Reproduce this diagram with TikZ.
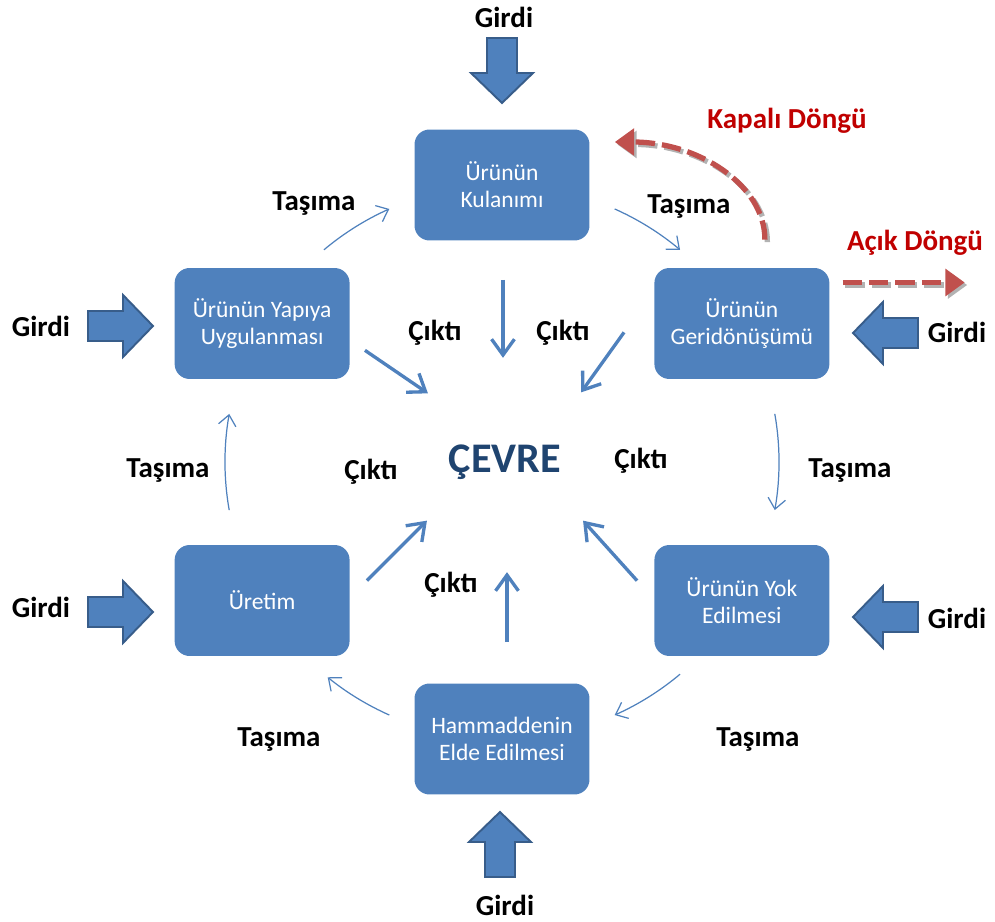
\documentclass[tikz,border=0pt]{standalone}
\usepackage{fontspec}
\setmainfont{Carlito}
\usepackage{tikz}
\usetikzlibrary{arrows.meta, positioning, calc}
\definecolor{boxblue}{HTML}{4F81BD}
\definecolor{edgeblue}{HTML}{385D8A}
\definecolor{cevreblue}{HTML}{1F4470}
\definecolor{loopred}{HTML}{C0504D}
\definecolor{looptext}{HTML}{C00000}

\begin{document}
\begin{tikzpicture}[x=0.02cm, y=0.02cm,
    stage/.style={fill=boxblue, rounded corners=0.3cm, minimum width=3.5cm, minimum height=2.22cm, text=white, align=center, font=\fontsize{13.4}{15.5}\selectfont},
    lbl/.style={font=\bfseries\fontsize{16.5}{18}\selectfont},
    looplbl/.style={lbl, text=looptext},
    tasima/.style={boxblue, line width=0.7pt, -{Straight Barb[length=6pt, width=10pt]}},
    cikti/.style={boxblue, line width=1.9pt, -{Straight Barb[length=9pt, width=13pt]}},
    inflow/.style={fill=boxblue, draw=edgeblue, line width=1.1pt, line join=miter},
    loopline/.style={line width=3pt, dash pattern=on 11pt off 4pt, -{Triangle[length=11pt, width=15pt]}},
    loopshadow/.style={loopline, black!30, transform canvas={shift={(0.05cm,-0.05cm)}}}]
    \useasboundingbox (0,0) rectangle (995,921);
    \coordinate (hub) at (502,459);
    \node[stage] (kul) at ($(hub)+(90:277)$) {Ürünün\\Kulanımı};
    \node[stage] (geri) at ($(hub)+(30:277)$) {Ürünün\\Geridönüşümü};
    \node[stage] (yok) at ($(hub)+(-30:277)$) {Ürünün Yok\\Edilmesi};
    \node[stage] (ham) at ($(hub)+(-90:277)$) {Hammaddenin\\Elde Edilmesi};
    \node[stage] (uretim) at ($(hub)+(210:277)$) {Üretim};
    \node[stage] (yapi) at ($(hub)+(150:277)$) {Ürünün Yapıya\\Uygulanması};
    \node[font=\bfseries\fontsize{24}{28}\selectfont, text=cevreblue] (cevre) at (505,459) {ÇEVRE};

    \foreach \a/\b in {130/114, 66/50, 10/-10, -50/-66, 246/231, 190/170}
        \draw[tasima] ($(hub)+(\a:277)$) arc[start angle=\a, end angle=\b, radius=5.54cm];

    \draw[cikti] ([shift={(1,-39)}]kul.south) -- ++(0,-78);
    \draw[cikti] ([shift={(15,29)}]yapi.south east) -- ++(63,-43);
    \draw[cikti] ([shift={(-30,47)}]geri.south west) -- ++(-43,-60);
    \draw[cikti] ([shift={(17,-36)}]uretim.north east) -- ++(60,60);
    \draw[cikti] ([shift={(-17,-36)}]yok.north west) -- ++(-54,60);
    \draw[cikti] ([shift={(5,41)}]ham.north) -- ++(0,70);

    \foreach \px/\py/\rot in {502/818/-90, 500/109/90, 153/595/0, 153/309/0, 853/588/180, 853/304/180}
        \draw[inflow, shift={(\px,\py)}, rotate=\rot] (-65,-15) -- (-30,-15) -- (-30,-31) -- (0,0) -- (-30,31) -- (-30,15) -- (-65,15) -- cycle;

    \draw[loopshadow] ([shift={(23,28)}]geri.north) .. controls +(0,55) and +(83,0) .. ([shift={(25,43)}]kul.east);
    \draw[loopline, loopred] ([shift={(23,28)}]geri.north) .. controls +(0,55) and +(83,0) .. ([shift={(25,43)}]kul.east);
    \draw[loopshadow] ([shift={(13,41)}]geri.east) -- ++(122,0);
    \draw[loopline, loopred] ([shift={(13,41)}]geri.east) -- ++(122,0);

    \node[lbl] (girdiT) at (504,904) {Girdi};
    \node[lbl] (girdiB) at (505,16) {Girdi};
    \node[lbl] (girdiLT) at (41,595) {Girdi};
    \node[lbl] (girdiLB) at (41,314) {Girdi};
    \node[lbl] (girdiRT) at (957,589) {Girdi};
    \node[lbl] (girdiRB) at (957,303) {Girdi};
    \node[lbl] (tasimaTL) at (314,717) {Taşıma};
    \node[lbl] (tasimaTR) at (689,714) {Taşıma};
    \node[lbl] (tasimaL) at (168,450) {Taşıma};
    \node[lbl] (tasimaR) at (850,450) {Taşıma};
    \node[lbl] (tasimaBL) at (279,181) {Taşıma};
    \node[lbl] (tasimaBR) at (758,181) {Taşıma};
    \node[lbl] (ciktiTL) at (435,588) {Çıktı};
    \node[lbl] (ciktiTR) at (563,588) {Çıktı};
    \node[lbl] (ciktiL) at (371,449) {Çıktı};
    \node[lbl] (ciktiR) at (641,460) {Çıktı};
    \node[lbl] (ciktiB) at (451,336) {Çıktı};
    \node[looplbl] (kapali) at (787,800) {Kapalı Döngü};
    \node[looplbl] (acik) at (915,678) {Açık Döngü};
\end{tikzpicture}
\end{document}
